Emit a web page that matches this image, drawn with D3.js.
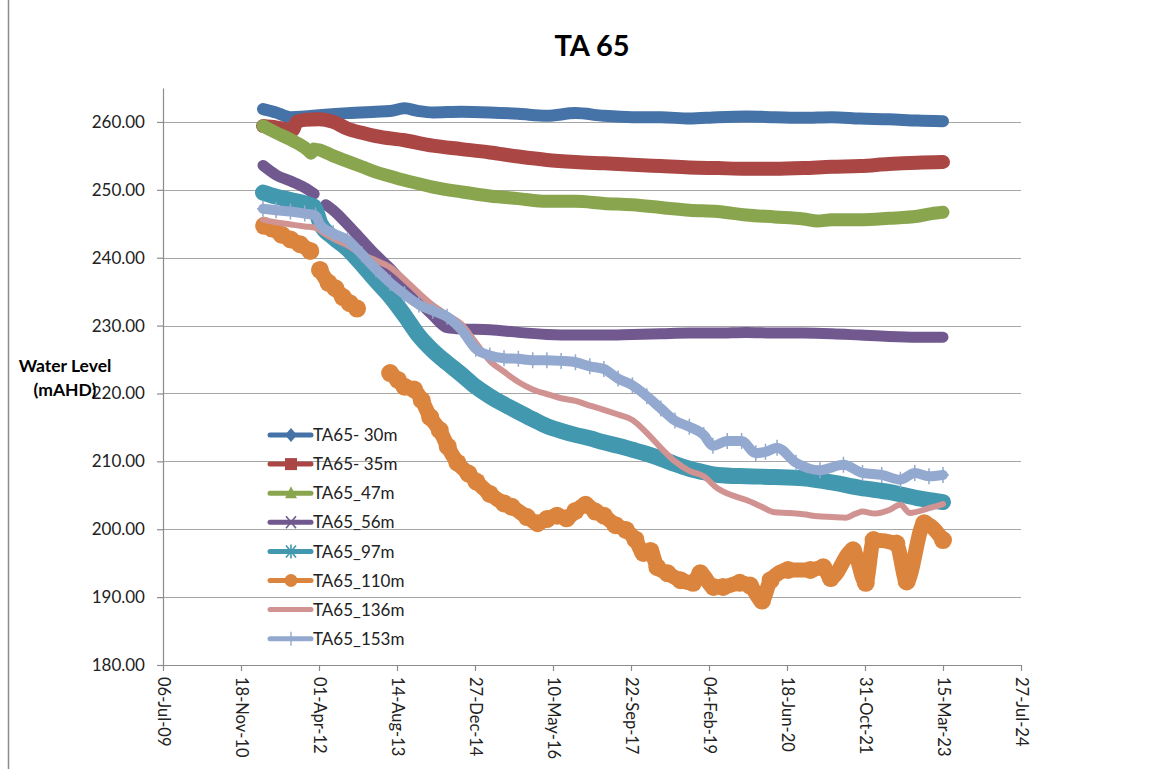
<!DOCTYPE html>
<html><head><meta charset="utf-8">
<script src="https://cdn.jsdelivr.net/npm/d3@7"></script>
<style>
body{margin:0;background:#fff;}
svg{display:block;font-family:Lato,"Open Sans",sans-serif;}
</style>
</head><body>
<svg id="chart" width="1169" height="769"></svg>
<script>
// ---------------- data ----------------
const chartTitle = "TA 65";
const yAxisTitle = ["Water Level", "(mAHD)"];
const yTickValues = [180, 190, 200, 210, 220, 230, 240, 250, 260];
const xTickDates = ["2009-07-06","2010-11-18","2012-04-01","2013-08-14","2014-12-27","2016-05-10",
                    "2017-09-22","2019-02-04","2020-06-18","2021-10-31","2023-03-15","2024-07-27"];
const xTickLabels = ["06-Jul-09","18-Nov-10","01-Apr-12","14-Aug-13","27-Dec-14","10-May-16",
                     "22-Sep-17","04-Feb-19","18-Jun-20","31-Oct-21","15-Mar-23","27-Jul-24"];
const seriesNames = ["TA65- 30m","TA65- 35m","TA65_47m","TA65_56m","TA65_97m","TA65_110m","TA65_136m","TA65_153m"];

const ta65_30m = [["2011-04-08",261.9],["2011-07-01",261.4],["2011-10-01",260.7],["2012-01-01",260.8],["2012-04-01",261.0],
 ["2012-10-01",261.3],["2013-04-01",261.5],["2013-07-01",261.6],["2013-10-01",262.0],["2014-01-01",261.6],["2014-04-01",261.4],
 ["2014-10-01",261.5],["2015-04-01",261.4],["2015-10-01",261.2],["2016-04-01",260.9],["2016-10-01",261.3],["2017-04-01",260.9],
 ["2017-10-01",260.7],["2018-04-01",260.7],["2018-10-01",260.5],["2019-04-01",260.7],["2019-10-01",260.8],["2020-04-01",260.7],
 ["2020-10-01",260.6],["2021-04-01",260.7],["2021-10-01",260.5],["2022-04-01",260.4],["2022-10-01",260.2],["2023-03-15",260.1]];

const ta65_35m = [["2011-04-08",259.4],["2011-07-01",259.2],["2011-10-15",258.8],["2011-11-10",260.0],["2012-01-01",260.3],
 ["2012-04-01",260.4],["2012-07-01",260.0],["2012-10-01",259.0],["2013-01-01",258.4],["2013-04-01",257.9],["2013-10-01",257.3],
 ["2014-04-01",256.5],["2014-10-01",256.0],["2015-04-01",255.5],["2015-10-01",254.9],["2016-04-01",254.4],["2016-10-01",254.1],
 ["2017-04-01",253.9],["2017-10-01",253.7],["2018-04-01",253.5],["2018-10-01",253.3],["2019-04-01",253.2],["2019-10-01",253.1],
 ["2020-04-01",253.1],["2020-10-01",253.2],["2021-04-01",253.4],["2021-10-01",253.5],["2022-04-01",253.8],["2022-10-01",254.0],
 ["2023-03-15",254.1]];

const ta65_47m = [["2011-04-08",259.4],["2011-07-01",258.4],["2011-10-01",257.4],["2012-01-01",256.2],["2012-02-10",255.4],
 ["2012-02-20",null],["2012-03-01",256.0],["2012-04-01",255.9],["2012-07-01",255.0],["2012-10-01",254.2],["2013-01-01",253.4],
 ["2013-04-01",252.6],["2013-07-01",252.0],["2013-10-01",251.4],["2014-01-01",250.9],["2014-04-01",250.4],["2014-10-01",249.7],
 ["2015-04-01",249.1],["2015-10-01",248.7],["2016-04-01",248.3],["2016-10-01",248.3],["2017-04-01",248.0],["2017-10-01",247.8],
 ["2018-04-01",247.4],["2018-10-01",247.0],["2019-04-01",246.8],["2019-10-01",246.3],["2020-04-01",246.0],["2020-10-01",245.7],
 ["2021-01-01",245.4],["2021-04-01",245.6],["2021-10-01",245.6],["2022-04-01",245.8],["2022-10-01",246.1],["2023-01-01",246.5],
 ["2023-03-15",246.7]];

const ta65_56m = [["2011-04-08",253.6],["2011-07-01",252.2],["2011-10-01",251.3],["2012-01-01",250.3],["2012-03-01",249.4],
 ["2012-03-20",null],["2012-05-15",247.8],["2012-07-01",247.0],["2012-10-01",244.9],["2013-01-01",242.6],["2013-04-01",240.4],
 ["2013-07-01",238.4],["2013-10-01",236.0],["2014-01-01",233.6],["2014-04-01",231.5],["2014-07-01",229.7],["2014-10-01",229.5],
 ["2015-04-01",229.4],["2015-10-01",229.0],["2016-04-01",228.7],["2016-10-01",228.6],["2017-04-01",228.6],["2017-10-01",228.7],
 ["2018-04-01",228.8],["2018-10-01",228.9],["2019-04-01",228.9],["2019-10-01",229.0],["2020-04-01",228.9],["2020-10-01",228.9],
 ["2021-04-01",228.8],["2021-10-01",228.6],["2022-04-01",228.4],["2022-10-01",228.3],["2023-03-15",228.3]];

const ta65_97m = [["2011-04-08",249.6],["2011-07-01",249.0],["2011-10-01",248.5],["2012-01-01",248.0],["2012-03-01",247.5],
 ["2012-04-10",245.0],["2012-07-01",243.0],["2012-10-01",241.3],["2013-01-01",239.0],["2013-04-01",236.6],["2013-07-01",234.3],
 ["2013-10-01",231.5],["2014-01-01",228.5],["2014-04-01",226.3],["2014-07-01",224.5],["2014-10-01",222.8],["2015-01-01",221.0],
 ["2015-04-01",219.6],["2015-07-01",218.4],["2015-10-01",217.3],["2016-01-01",216.2],["2016-04-01",215.2],["2016-07-01",214.5],
 ["2016-10-01",213.9],["2017-01-01",213.4],["2017-04-01",212.8],["2017-07-01",212.3],["2017-10-01",211.7],["2018-01-01",211.1],
 ["2018-04-01",210.4],["2018-07-01",209.6],["2018-10-01",208.9],["2019-01-01",208.4],["2019-04-01",208.0],["2019-10-01",207.8],
 ["2020-04-01",207.7],["2020-10-01",207.5],["2021-04-01",206.9],["2021-10-01",206.1],["2022-04-01",205.5],["2022-10-01",204.6],
 ["2023-03-15",204.0]];

const ta65_110m = [["2011-04-15",244.7],["2011-06-05",244.3],["2011-08-05",243.4],["2011-10-01",242.7],["2011-12-01",242.0],
 ["2012-02-05",241.0],["2012-03-01",null],["2012-04-07",238.2],["2012-06-01",236.3],["2012-07-15",235.5],["2012-09-01",234.2],
 ["2012-10-15",233.3],["2012-12-01",232.5],["2013-03-01",null],["2013-07-01",223.0],["2013-08-20",222.0],["2013-10-01",221.0],
 ["2013-12-01",220.6],["2014-01-20",219.0],["2014-03-15",216.5],["2014-05-15",214.6],["2014-07-05",212.2],["2014-09-05",209.8],
 ["2014-11-15",208.2],["2015-01-05",207.0],["2015-04-01",205.2],["2015-07-01",203.8],["2015-08-20",203.3],["2015-11-25",201.8],
 ["2016-02-01",200.9],["2016-04-01",201.5],["2016-06-05",202.0],["2016-08-05",201.6],["2016-10-01",202.7],["2016-12-05",203.6],
 ["2017-02-05",202.6],["2017-04-01",202.0],["2017-06-15",200.6],["2017-08-20",199.9],["2017-10-20",198.5],["2017-12-10",196.5],
 ["2018-01-25",196.8],["2018-03-10",194.4],["2018-05-15",193.5],["2018-08-05",192.5],["2018-10-25",192.1],["2018-12-10",193.5],
 ["2019-03-05",191.5],["2019-05-05",191.5],["2019-08-20",192.1],["2019-10-25",191.7],["2020-01-10",189.5],["2020-03-05",192.5],
 ["2020-06-25",194.0],["2020-11-15",194.0],["2021-02-05",194.4],["2021-03-25",192.8],["2021-08-15",196.9],["2021-11-05",192.1],
 ["2021-12-25",198.4],["2022-05-20",197.9],["2022-07-25",192.3],["2022-11-15",200.9],["2023-03-15",198.4]];

const ta65_136m = [["2011-04-08",245.6],["2011-07-01",245.2],["2011-10-01",244.9],["2012-01-01",244.6],["2012-03-10",244.4],
 ["2012-05-10",243.5],["2012-07-01",242.8],["2012-10-01",241.8],["2013-01-01",240.5],["2013-04-01",239.6],["2013-07-01",238.6],
 ["2013-10-01",236.8],["2014-01-01",234.8],["2014-04-01",233.0],["2014-07-01",231.6],["2014-10-01",230.2],["2015-01-01",227.5],
 ["2015-04-01",224.8],["2015-07-01",223.2],["2015-10-01",221.7],["2016-01-01",220.6],["2016-04-01",219.9],["2016-07-01",219.3],
 ["2016-10-01",218.9],["2017-01-01",218.2],["2017-04-01",217.6],["2017-07-01",216.9],["2017-10-01",216.1],["2018-01-01",214.2],
 ["2018-04-01",212.0],["2018-07-01",210.0],["2018-10-01",208.6],["2019-01-01",207.8],["2019-04-01",206.0],["2019-07-01",205.0],
 ["2019-10-01",204.3],["2020-01-01",203.4],["2020-04-01",202.5],["2020-07-01",202.4],["2020-10-01",202.2],["2021-01-01",201.9],
 ["2021-04-01",201.8],["2021-07-01",201.7],["2021-09-01",202.3],["2021-10-15",202.6],["2022-01-01",202.3],["2022-04-01",202.8],
 ["2022-06-15",203.6],["2022-08-15",202.4],["2022-12-15",203.1],["2023-03-15",203.7]];

const ta65_153m = [["2011-04-08",247.2],["2011-07-01",247.0],["2011-10-01",246.8],["2012-01-01",246.5],["2012-03-10",246.2],
 ["2012-04-10",244.8],["2012-07-01",243.6],["2012-10-01",242.6],["2013-01-01",240.5],["2013-04-01",238.3],["2013-07-01",236.3],
 ["2013-10-01",234.6],["2014-01-01",233.1],["2014-04-01",232.2],["2014-07-01",231.3],["2014-10-01",229.4],["2015-01-01",226.6],
 ["2015-04-01",225.6],["2015-07-01",225.2],["2015-10-01",225.1],["2016-01-01",224.9],["2016-04-01",224.9],["2016-07-01",224.8],
 ["2016-10-01",224.6],["2017-01-01",224.0],["2017-04-01",223.6],["2017-07-01",222.2],["2017-10-01",221.2],["2018-01-01",219.6],
 ["2018-04-01",217.8],["2018-07-01",216.0],["2018-10-01",215.1],["2019-01-01",213.9],["2019-03-01",212.3],["2019-06-01",213.0],
 ["2019-09-01",213.0],["2019-12-01",211.2],["2020-02-01",211.4],["2020-04-15",212.0],["2020-08-15",209.8],["2021-01-15",208.7],
 ["2021-06-15",209.5],["2021-10-15",208.3],["2022-02-15",208.0],["2022-06-15",207.3],["2022-09-15",208.3],["2022-12-15",207.8],
 ["2023-03-15",208.0]];

const seriesData = [ta65_30m, ta65_35m, ta65_47m, ta65_56m, ta65_97m, ta65_110m, ta65_136m, ta65_153m];

// ---------------- styles ----------------
const colors = ["#4572A7","#AA4643","#89A54E","#71588F","#4198AF","#DB843D","#D19392","#93A9CF"];
const widths = [12, 14, 13, 11, 16, 15, 6, 10];
const markers = ["diamond","square","triangle","x","asterisk","circle","none","plus"];

// ---------------- chart ----------------
const svg = d3.select("#chart");
const parse = d3.utcParse("%Y-%m-%d");
const L = 163, R = 1021, T = 88, B = 665;

const x = d3.scaleUtc().domain([parse("2009-07-06"), parse("2024-07-27")]).range([L, R]);
const y = d3.scaleLinear().domain([180, 265]).range([B, T]);

svg.append("rect").attr("width",1169).attr("height",769).attr("fill","#fff");
svg.append("line").attr("x1",8.5).attr("x2",8.5).attr("y1",0).attr("y2",769)
   .attr("stroke","#8c8c8c").attr("stroke-width",1.5);

// gridlines
svg.append("g").selectAll("line").data(yTickValues.filter(v => v > 180)).join("line")
  .attr("x1", L).attr("x2", R).attr("y1", d => Math.round(y(d)) + 0.5).attr("y2", d => Math.round(y(d)) + 0.5)
  .attr("stroke", "#a6a6a6").attr("stroke-width", 1.2);

// axes
const gx = svg.append("g").attr("transform", `translate(0,${B})`)
  .call(d3.axisBottom(x).tickValues(xTickDates.map(parse)).tickFormat((d,i) => xTickLabels[i]).tickSize(6).tickSizeOuter(0));
gx.select(".domain").attr("stroke","#8c8c8c").attr("stroke-width",1.2);
gx.selectAll(".tick line").attr("stroke","#8c8c8c").attr("stroke-width",1.2);
gx.selectAll(".tick text")
  .attr("y", 0).attr("x", 12).attr("dy", "0.35em")
  .attr("transform", "rotate(90)").style("text-anchor", "start")
  .attr("font-size", 16.5).attr("fill", "#222").attr("font-family","Lato");

const gy = svg.append("g").attr("transform", `translate(${L},0)`)
  .call(d3.axisLeft(y).tickValues(yTickValues).tickFormat(d3.format(".2f")).tickSize(6).tickPadding(12).tickSizeOuter(0));
gy.select(".domain").attr("stroke","#8c8c8c").attr("stroke-width",1.2);
gy.selectAll(".tick line").attr("stroke","#8c8c8c").attr("stroke-width",1.2);
gy.selectAll(".tick text").attr("font-size", 17).attr("fill", "#222").attr("font-family","Lato");

// series lines
const line = d3.line()
  .defined(d => d[1] !== null)
  .x(d => x(parse(d[0])))
  .y(d => y(d[1]))
  .curve(d3.curveMonotoneX);

const gs = svg.append("g");
seriesData.forEach((data, i) => {
  gs.append("path").datum(data)
    .attr("d", line)
    .attr("fill", "none")
    .attr("stroke", colors[i])
    .attr("stroke-width", widths[i])
    .attr("stroke-linejoin", "round")
    .attr("stroke-linecap", "round");
  const pts = data.filter(d => d[1] !== null);
  if (markers[i] === "circle") {
    gs.append("g").selectAll("circle").data(pts).join("circle")
      .attr("cx", d => x(parse(d[0]))).attr("cy", d => y(d[1])).attr("r", 9)
      .attr("fill", colors[i]);
  }
  if (markers[i] === "plus") {
    gs.append("g").selectAll("path").data(pts).join("path")
      .attr("d", d => { const px = x(parse(d[0])), py = y(d[1]); return `M${px},${py-8}V${py+8}M${px-6},${py}H${px+6}`; })
      .attr("stroke", colors[i]).attr("stroke-width", 1.5).attr("fill", "none");
  }
});

// title
svg.append("text").attr("x", 592).attr("y", 56).attr("text-anchor","middle")
  .attr("font-size", 29).attr("font-weight","bold").attr("fill","#000").text(chartTitle);

// y axis title
svg.append("text").attr("x", 65).attr("y", 372).attr("text-anchor","middle")
  .attr("font-size", 17.5).attr("font-weight","bold").attr("fill","#000").text(yAxisTitle[0]);
svg.append("text").attr("x", 65).attr("y", 396).attr("text-anchor","middle")
  .attr("font-size", 17.5).attr("font-weight","bold").attr("fill","#000").text(yAxisTitle[1]);

// legend
function markerPath(type, cx, cy) {
  switch (type) {
    case "diamond": return `M${cx},${cy-7}L${cx+6},${cy}L${cx},${cy+7}L${cx-6},${cy}Z`;
    case "square": return `M${cx-6},${cy-6}h12v12h-12Z`;
    case "triangle": return `M${cx},${cy-7}L${cx+6},${cy+5}L${cx-6},${cy+5}Z`;
    default: return null;
  }
}
const lg = svg.append("g");
seriesNames.forEach((name, i) => {
  const cy = 435 + i * 29.1;
  lg.append("line").attr("x1", 270).attr("x2", 311).attr("y1", cy).attr("y2", cy)
    .attr("stroke", colors[i]).attr("stroke-width", 5).attr("stroke-linecap","round");
  const m = markers[i], cx = 291;
  const p = markerPath(m, cx, cy);
  if (p) lg.append("path").attr("d", p).attr("fill", colors[i]);
  if (m === "circle") lg.append("circle").attr("cx", cx).attr("cy", cy).attr("r", 6.5).attr("fill", colors[i]);
  if (m === "x" || m === "asterisk") {
    lg.append("path").attr("d", `M${cx-5},${cy-6}L${cx+5},${cy+6}M${cx+5},${cy-6}L${cx-5},${cy+6}` + (m === "asterisk" ? `M${cx},${cy-7}V${cy+7}` : ""))
      .attr("stroke", colors[i]).attr("stroke-width", 1.6).attr("fill","none");
  }
  if (m === "plus") {
    lg.append("path").attr("d", `M${cx},${cy-7}V${cy+7}`).attr("stroke", colors[i]).attr("stroke-width", 1.4);
  }
  lg.append("text").attr("x", 313).attr("y", cy).attr("dy", "0.36em")
    .attr("font-size", 17).attr("fill", "#222").text(name);
});
</script>
</body></html>
